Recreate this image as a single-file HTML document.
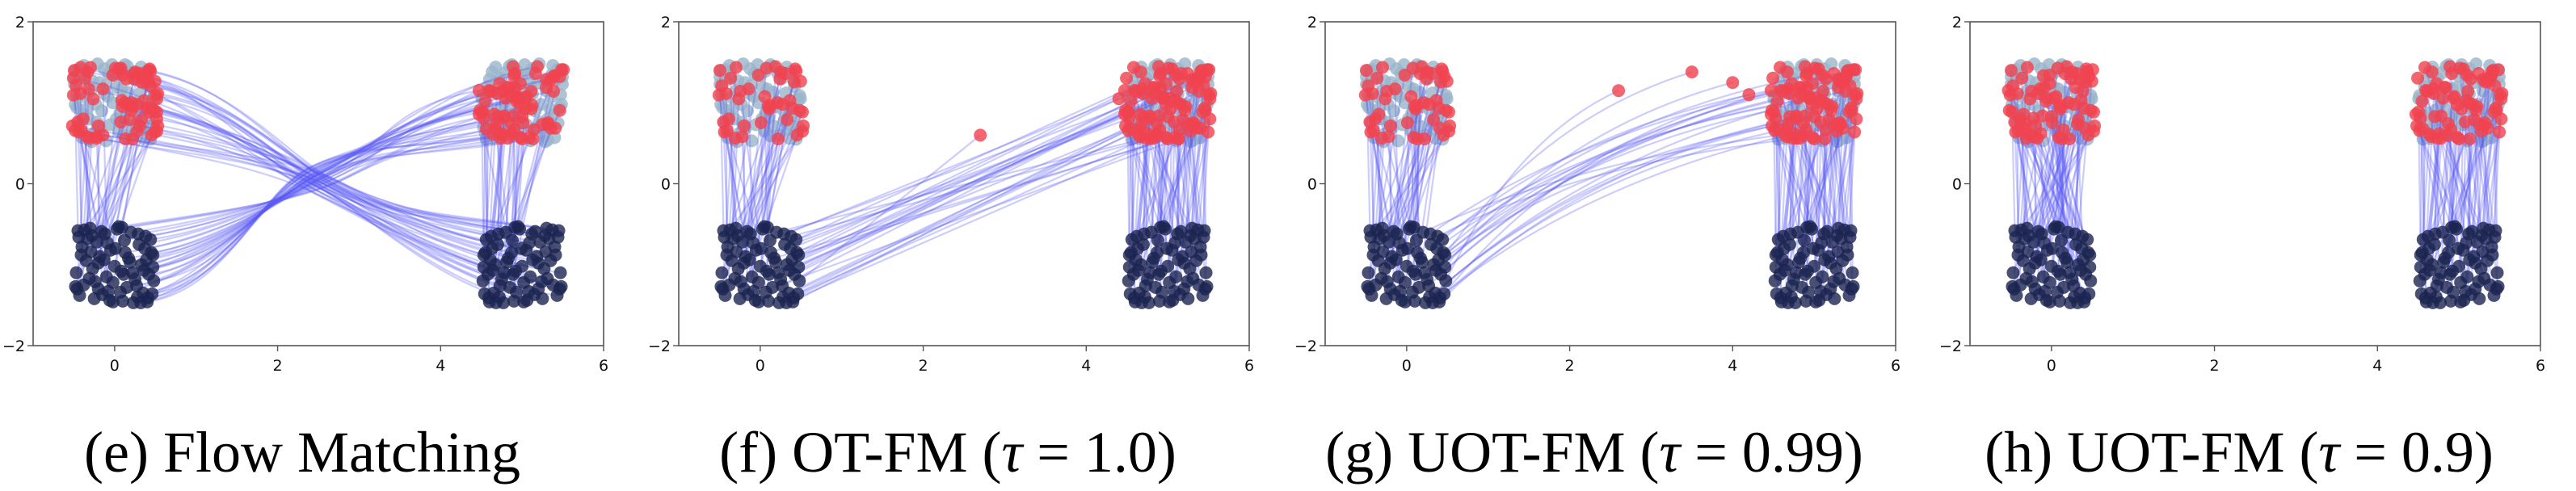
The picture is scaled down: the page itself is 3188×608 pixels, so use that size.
<!DOCTYPE html>
<html><head><meta charset="utf-8">
<style>
html,body{margin:0;padding:0;background:#fff;}
svg{display:block;}
.tick{font-family:"DejaVu Sans","Liberation Sans",sans-serif;font-size:19px;fill:#111;}
.cap{font-family:"Liberation Serif",serif;font-size:72px;fill:#000;}
</style></head>
<body>
<svg id="fig" width="3188" height="608" viewBox="0 0 3188 608" xmlns="http://www.w3.org/2000/svg"></svg>
<script>
// ---- data ----
const panelPrefix = ["(e) Flow Matching", "(f) OT-FM (", "(g) UOT-FM (", "(h) UOT-FM ("];
const panelTau = ["", "1.0", "0.99", "0.9"];
const xTicks = [0, 2, 4, 6];
const yTicks = [-2, 0, 2];
const xTickLabels = ["0", "2", "4", "6"];
const yTickLabels = ["−2", "0", "2"];
const srcCenters = [[0, -1], [5, -1]];
const tgtCenters = [[0, 1], [5, 1]];
const srcDX = [-0.45,-0.3,-0.12,0.05,0.2,0.38,-0.4,-0.22,-0.05,0.12,0.3,0.45,-0.35,-0.18,0.0,0.17,0.33,0.47,-0.47,-0.27,-0.1,0.08,0.25,0.42,-0.38,-0.2,-0.02,0.15,0.35,0.48,-0.43,-0.25,-0.08,0.1,0.28,0.4,-0.33,-0.15,0.03,0.22,0.37,-0.46,-0.28,-0.06,0.13,0.32,0.46,-0.2,
  -0.41,-0.09,0.27,0.44,-0.31,0.07,0.36,-0.16,0.19,-0.48,0.01,0.41,-0.24,0.11,-0.37,0.29,-0.13,0.47,-0.02,-0.44,0.23,-0.29,0.39,0.09];
const srcDY = [0.42,0.45,0.38,0.47,0.4,0.35,0.22,0.28,0.18,0.3,0.25,0.15,0.05,0.1,-0.02,0.08,0.0,0.12,-0.1,-0.05,-0.15,-0.08,-0.18,-0.12,-0.25,-0.3,-0.22,-0.28,-0.35,-0.2,-0.38,-0.42,-0.33,-0.45,-0.4,-0.46,0.32,-0.37,0.44,-0.1,0.2,-0.3,0.36,-0.44,0.15,-0.47,-0.36,0.02,
  0.12,0.27,-0.26,0.31,-0.17,-0.34,-0.07,0.41,0.03,-0.27,0.2,-0.41,-0.21,-0.12,0.43,0.38,0.06,-0.03,-0.46,0.34,-0.47,0.16,0.06,0.46];
const crossLeft = [36, 30, 24, 0];   // left-bottom sources transported to right-top
const crossRight = [36, 0, 0, 0];    // right-bottom sources transported to left-top
const curveKind = ["flow", "straight", "bend", "straight"];
const outlierX = [[], [2.7, 4.4], [2.6, 3.5, 4.0, 4.2], []];
const outlierY = [[], [0.6, 1.05], [1.15, 1.38, 1.25, 1.1], []];
const panelLeft = [41, 840, 1640, 2438];

// ---- drawing ----
const NS = "http://www.w3.org/2000/svg";
const svg = document.getElementById("fig");
const AX_W = 706, AX_TOP = 27, AX_H = 401;
function mk(tag, attrs, parent) {
  const e = document.createElementNS(NS, tag);
  for (const k in attrs) e.setAttribute(k, attrs[k]);
  (parent || svg).appendChild(e);
  return e;
}
const N = srcDX.length;
const orderDesc = [...Array(N).keys()].sort((a, b) => srcDX[b] - srcDX[a]);
const orderAsc = [...Array(N).keys()].sort((a, b) => srcDX[a] - srcDX[b]);

panelPrefix.forEach((title, p) => {
  const L = panelLeft[p];
  const X = v => L + (v + 1) * AX_W / 7;
  const Y = v => AX_TOP + (2 - v) * AX_H / 4;
  const g = mk("g", {});
  
  

  const tg = mk("g", {}, g);
  
  
  const lines = mk("g", {}, g);
  
  
  const sg = mk("g", {}, g);
  
  
  const eg = mk("g", {}, g);
  
  

  tgtCenters.forEach((c, ci) => {
    for (let i = 0; i < N; i++) {
      const dx = ci === 0 ? srcDY[i] : -srcDY[i];
      const d = mk("circle", {cx: X(c[0] + dx * 1.05), cy: Y(c[1] + srcDX[i]), r: 8, fill: "#9ab5cb", "fill-opacity": 0.8}, tg);
      
      
    }
  });

  const ends = [];
  srcCenters.forEach((c, ci) => {
    const ord = ci === 0 ? orderDesc : orderAsc;
    const nCross = ci === 0 ? crossLeft[p] : crossRight[p];
    for (let k = 0; k < N; k++) {
      const i = ord[k];
      const sdx = ci === 0 ? srcDX[i] : -srcDX[i];
      const x0 = c[0] + sdx, y0 = c[1] + srcDY[i];
      const crossing = k < nCross;
      const dest = crossing ? tgtCenters[1 - ci] : tgtCenters[ci];
      const j = (i * 11 + ci * 5) % N;
      let ex = dest[0] + srcDX[j] * 1.1;
      let ey = dest[1] + srcDY[(i * 7) % N] * 0.95;
      if (crossing && k < outlierX[p].length) { ex = outlierX[p][k]; ey = outlierY[p][k]; }
      ends.push([ex, ey]);
      let d;
      if (crossing && curveKind[p] === "flow") {
        const cx = 2.6 + 0.5 * srcDY[i], cy = 0.05 + 0.35 * srcDX[i];
        const s = ex > x0 ? 1 : -1;
        d = `M${X(x0)},${Y(y0)} C${X(x0 + s * 1.0)},${Y(y0 + 0.15)} ${X(cx - s * 0.6)},${Y(cy - 0.3)} ${X(cx)},${Y(cy)} S${X(ex - s * 1.1)},${Y(ey - 0.2)} ${X(ex)},${Y(ey)}`;
      } else if (crossing && curveKind[p] === "bend") {
        d = `M${X(x0)},${Y(y0)} Q${X(x0 + 0.4 * (ex - x0))},${Y(y0 + 0.75 * (ey - y0))} ${X(ex)},${Y(ey)}`;
      } else {
        d = `M${X(x0)},${Y(y0)} L${X(ex)},${Y(ey)}`;
      }
      const path = mk("path", {d: d, fill: "none", stroke: "#5a5af5", "stroke-opacity": 0.3, "stroke-width": 2.2}, lines);
      
      
      const s = mk("circle", {cx: X(x0), cy: Y(y0), r: 8, fill: "#1c2450", "fill-opacity": 0.8}, sg);
      
      
    }
  });
  ends.forEach(e => {
    const c = mk("circle", {cx: X(e[0]), cy: Y(e[1]), r: 8, fill: "#f0434f", "fill-opacity": 0.82}, eg);
    
    
  });

  const fr = mk("rect", {x: L, y: AX_TOP, width: AX_W, height: AX_H, fill: "none", stroke: "#555", "stroke-width": 1.6}, g);
  
  
  xTicks.forEach((t, j) => {
    mk("line", {x1: X(t), x2: X(t), y1: AX_TOP + AX_H, y2: AX_TOP + AX_H + 7, stroke: "#555", "stroke-width": 1.4}, g);
    const tx = mk("text", {x: X(t), y: 459, "text-anchor": "middle", class: "tick"}, g);
    tx.textContent = xTickLabels[j];
    
    
  });
  yTicks.forEach((t, j) => {
    mk("line", {x1: L - 7, x2: L, y1: Y(t), y2: Y(t), stroke: "#555", "stroke-width": 1.4}, g);
    const ty = mk("text", {x: L - 10, y: Y(t) + 7, "text-anchor": "end", class: "tick"}, g);
    ty.textContent = yTickLabels[j];
    
    
  });
  const cap = mk("text", {x: L + AX_W / 2 - 20, y: 584, "text-anchor": "middle", class: "cap"}, g);
  
  
  if (panelTau[p] === "") {
    cap.textContent = title;
  } else {
    cap.appendChild(document.createTextNode(title));
    const t1 = mk("tspan", {"font-style": "italic"}, cap);
    t1.textContent = "τ";
    cap.appendChild(document.createTextNode(" = " + panelTau[p] + ")"));
  }
});
</script>
</body></html>
